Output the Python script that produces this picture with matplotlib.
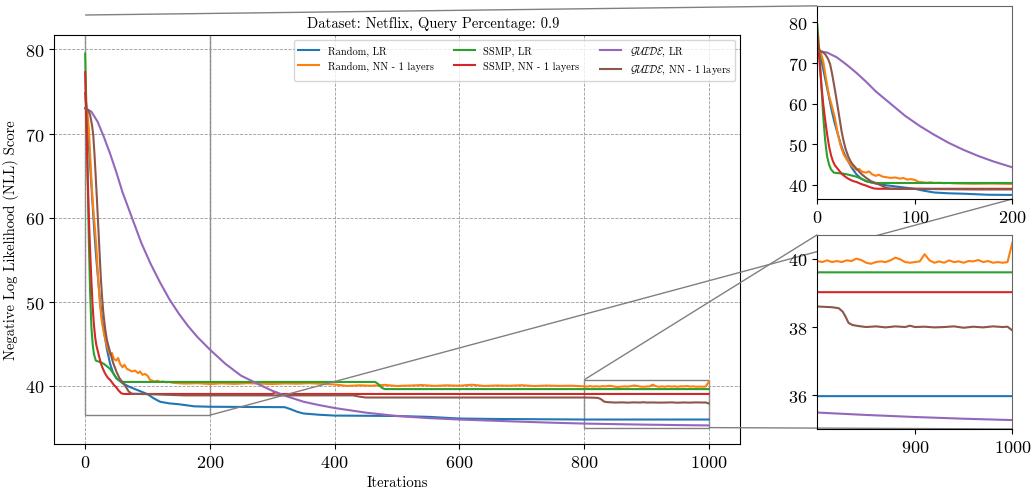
import matplotlib.pyplot as plt
from mpl_toolkits.axes_grid1.inset_locator import mark_inset

plt.rcParams['font.family'] = 'serif'
plt.rcParams['font.serif'] = ['cmr10']
plt.rcParams['mathtext.fontset'] = 'cm'
plt.rcParams['axes.formatter.use_mathtext'] = True

# Random, LR
rand_lr_it = [0, 3, 6, 9, 12, 15, 18, 21, 24, 27, 30, 35, 40, 45, 50, 60, 70, 80, 90, 100, 110, 120,
              135, 150, 175, 200, 320, 330, 340, 350, 375, 400, 500, 550, 600, 650, 800, 1000]
rand_lr = [74.8, 72.0, 68.5, 65.0, 61.5, 58.0, 55.0, 52.5, 50.0, 48.0, 46.5, 44.3, 42.6, 41.5, 40.9, 40.3,
           39.9, 39.6, 39.3, 39.0, 38.5, 38.1, 37.9, 37.8, 37.55, 37.5, 37.45, 37.2, 36.9, 36.7, 36.55, 36.45,
           36.4, 36.3, 36.1, 36.05, 35.98, 35.98]

# Random, NN - 1 layers
rand_nn_it = [0, 3, 6, 9, 12, 15, 18, 21, 24, 27, 30, 33, 36, 40, 43, 46, 50, 53, 56, 60, 63, 67, 70, 75,
              80, 85, 88, 92, 96, 100, 104, 108, 112, 116, 120, 125, 130, 135, 140,
              160, 180, 200, 220, 240, 260, 280, 300, 320, 340, 360, 380, 400,
              420, 440, 460, 480, 500, 520, 540, 560, 580, 600, 620, 640, 660, 680, 700, 720, 740, 760, 780,
              800, 805, 810, 815, 820, 825, 830, 835, 840, 845, 850, 855, 860, 865, 870, 875, 880, 885, 890,
              895, 900, 905, 910, 915, 920, 925, 930, 935, 940, 945, 950, 955, 960, 965, 970, 975, 980, 985,
              990, 995, 1000]
rand_nn = [74.5, 73.0, 70.5, 66.0, 62.0, 59.3, 56.5, 52.5, 49.5, 47.5, 46.3, 45.3, 44.5, 43.7, 43.9, 43.2,
           43.0, 43.3, 42.6, 42.2, 42.5, 42.0, 41.9, 41.7, 41.8, 41.5, 41.7, 41.3, 41.4, 41.2, 40.7, 40.6,
           40.5, 40.6, 40.45, 40.5, 40.4, 40.45, 40.35,
           40.25, 40.3, 40.2, 40.28, 40.22, 40.3, 40.25, 40.2, 40.27, 40.24, 40.3, 40.22, 40.15,
           39.98, 40.05, 40.0, 40.1, 39.97, 40.02, 40.08, 39.98, 40.05, 40.0, 40.12, 39.97, 40.03, 40.0,
           40.06, 39.96, 40.02, 39.98, 40.0,
           39.93, 39.9, 39.95, 39.9, 39.93, 39.9, 39.95, 39.93, 40.0, 39.96, 39.88, 39.85, 39.9, 39.92,
           39.9, 39.95, 40.03, 39.98, 39.9, 39.88, 39.9, 39.92, 40.13, 39.95, 39.88, 39.92, 39.88, 39.95,
           39.9, 39.92, 39.88, 39.93, 39.92, 39.96, 39.9, 39.93, 39.88, 39.9, 39.88, 39.9, 40.47]

# SSMP, LR
ssmp_lr_it = [0, 2, 4, 6, 8, 10, 12, 14, 17, 20, 25, 30, 35, 40, 45, 50, 55, 60, 465, 470, 475, 480, 1000]
ssmp_lr = [79.5, 73.0, 65.0, 57.0, 51.0, 47.0, 45.0, 43.8, 43.0, 42.9, 42.8, 42.6, 42.3, 42.0, 41.5, 40.9,
           40.6, 40.45, 40.45, 40.2, 39.8, 39.6, 39.6]

# SSMP, NN - 1 layers
ssmp_nn_it = [0, 2, 4, 6, 8, 10, 12, 14, 16, 18, 20, 22, 25, 28, 31, 34, 37, 40, 43, 46, 50, 54, 58, 62,
              300, 304, 308, 312, 1000]
ssmp_nn = [77.3, 71.0, 65.0, 60.0, 56.0, 52.5, 49.5, 47.3, 45.8, 44.8, 44.2, 43.6, 42.7, 42.1, 41.6, 41.2,
           40.9, 40.7, 40.4, 40.1, 39.8, 39.4, 39.1, 39.02, 39.02, 39.2, 39.15, 39.02, 39.02]

# GUIDE, LR
guide_lr_it = [0, 10, 20, 30, 40, 50, 60, 75, 90, 105, 120, 135, 150, 165, 180, 200, 225, 250, 283, 300,
               325, 350, 375, 400, 450, 500, 550, 600, 650, 700, 750, 800, 850, 900, 950, 1000]
guide_lr = [73.0, 72.6, 71.4, 69.6, 67.6, 65.4, 63.0, 60.0, 57.0, 54.5, 52.3, 50.3, 48.6, 47.1, 45.8, 44.3,
            42.6, 41.2, 40.0, 39.4, 38.7, 38.1, 37.7, 37.35, 36.8, 36.4, 36.15, 35.98, 35.85, 35.72, 35.6,
            35.5, 35.43, 35.37, 35.32, 35.28]

# GUIDE, NN - 1 layers
guide_nn_it = [0, 5, 8, 11, 13, 15, 17, 19, 21, 23, 25, 27, 29, 32, 35, 40, 45, 50, 55, 60, 65, 70, 75, 100,
               140, 160, 430, 440, 450, 800, 815, 822, 826, 829, 832, 836, 842, 850, 860, 870, 880, 890, 895,
               900, 910, 920, 930, 940, 950, 960, 970, 980, 990, 995, 1000]
guide_nn = [73.0, 72.8, 72.2, 71.0, 69.8, 67.5, 64.8, 62.0, 59.0, 56.0, 53.0, 50.7, 48.8, 46.8, 45.4, 44.0,
            42.7, 41.7, 40.9, 40.4, 39.9, 39.3, 39.05, 39.0, 38.9, 38.85, 38.85, 38.7, 38.6, 38.6, 38.58,
            38.55, 38.45, 38.3, 38.12, 38.06, 38.03, 38.0, 38.02, 37.99, 38.02, 38.0, 38.04, 38.0, 38.01,
            37.99, 38.0, 38.02, 37.98, 38.01, 37.99, 38.02, 38.0, 38.01, 37.9]

series = [
    (rand_lr_it, rand_lr, 'Random, LR'),
    (rand_nn_it, rand_nn, 'Random, NN - 1 layers'),
    (ssmp_lr_it, ssmp_lr, 'SSMP, LR'),
    (ssmp_nn_it, ssmp_nn, 'SSMP, NN - 1 layers'),
    (guide_lr_it, guide_lr, r'$\mathcal{GUIDE}$, LR'),
    (guide_nn_it, guide_nn, r'$\mathcal{GUIDE}$, NN - 1 layers'),
]

fig = plt.figure(figsize=(10.32, 4.89), dpi=100)
ax = fig.add_axes([0.0523, 0.09, 0.6647, 0.836])
ax1 = fig.add_axes([0.792, 0.591, 0.189, 0.395])
ax2 = fig.add_axes([0.792, 0.1207, 0.189, 0.3973])

for a in (ax, ax1, ax2):
    for it, vals, label in series:
        a.plot(it, vals, lw=1.5, label=label)

ax.set_title('Dataset: Netflix, Query Percentage: 0.9', fontsize=10.5, x=0.5525)
ax.set_xlabel('Iterations', fontsize=10.5)
ax.set_ylabel('Negative Log Likelihood (NLL) Score', fontsize=10.5)
ax.grid(True, linestyle='--', color='0.6', linewidth=0.6)
ax.tick_params(labelsize=13)
ax.legend(loc='upper right', ncol=3, fontsize=7.5)

# zoomed insets
ax1.set_xlim(0, 200)
ax1.set_ylim(36.5, 84.1)
ax1.set_xticks([0, 100, 200])
ax1.set_yticks([40, 50, 60, 70, 80])
ax1.tick_params(labelsize=13)

ax2.set_xlim(800, 1000)
ax2.set_ylim(35.02, 40.7)
ax2.set_xticks([900, 1000])
ax2.set_yticks([36, 38, 40])
ax2.tick_params(labelsize=13)

for a in (ax1, ax2):
    a.spines['top'].set_color('0.4')
    a.spines['right'].set_color('0.4')

mark_inset(ax, ax1, loc1=2, loc2=4, fc='none', ec='0.5')
mark_inset(ax, ax2, loc1=2, loc2=4, fc='none', ec='0.5')

ax.set_xlim(-50, 1050)
ax.set_ylim(33.07, 81.7)

plt.savefig('out.png')
